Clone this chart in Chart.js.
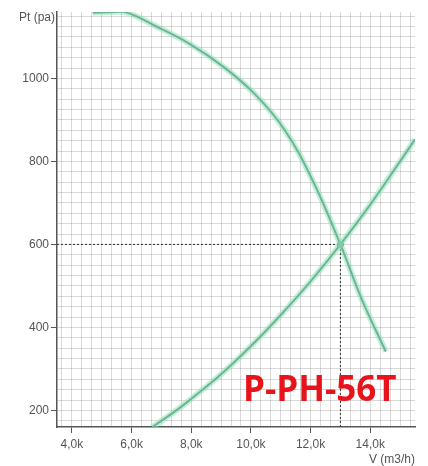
<!DOCTYPE html>
<html>
<head>
<meta charset="utf-8">
<script src="https://cdn.jsdelivr.net/npm/chart.js@4.4.1/dist/chart.umd.min.js"></script>
<style>
  body { margin: 0; background: #fff; }
  canvas { display: block; }
</style>
</head>
<body>
<canvas id="fanChart" width="428" height="466"></canvas>
<script>
// fan curve (Pt vs V)
const fanFlow = [4700, 5700, 6830, 7930, 9060, 10150, 11120, 12050, 13000, 13720, 14520];
const fanPressure = [1158, 1161, 1125, 1084, 1029, 961, 877, 757, 600, 467, 342];

// system curve
const sysFlow = [6700, 7500, 8000, 9000, 10000, 11000, 12000, 13000, 14000, 15000, 15500];
const sysPressure = [160, 200, 228, 287, 355, 430, 511, 600, 696, 800, 853];

// operating point
const dutyFlow = 13000;
const dutyPressure = 600;

const xMin = 3500, xMax = 15500;
const yMin = 160, yMax = 1160;
const xLabelStep = 2000, yLabelStep = 200;
const xGridStep = 2000 / 6, yGridStep = 25;

const toPoints = (xs, ys) => xs.map((x, i) => ({ x: x, y: ys[i] }));

const isLabelled = (v, step) => Math.abs(v / step - Math.round(v / step)) < 0.01;

// grid ticks lined up on the labelled values
const gridTicks = (min, max, step) => {
    const t = [];
    for (let v = Math.ceil(min / step) * step; v <= max + 1e-6; v += step) t.push({ value: v });
    return t;
};

const green = "rgb(58,128,98)";
const glow = "rgba(150,225,190,0.55)";
const labelFont = { family: "'Liberation Sans', Arial, sans-serif", size: 12 };

// axis names and model text
const textPlugin = {
    id: "texts",
    afterDraw(chart) {
        const c = chart.ctx;
        const area = chart.chartArea;
        c.save();
        c.fillStyle = "#555";
        c.font = "12px 'Liberation Sans', Arial, sans-serif";
        c.textAlign = "right";
        c.textBaseline = "middle";
        c.fillText("Pt (pa)", area.left - 2, 18);
        c.fillText("V (m3/h)", area.right, 460);
        c.fillStyle = "#e8141c";
        c.font = "bold 35px 'Open Sans', sans-serif";
        c.textAlign = "left";
        c.textBaseline = "alphabetic";
        c.fillText("P-PH-56T", 243, 401);
        c.restore();
    }
};

const ctx = document.getElementById("fanChart").getContext("2d");
const chart = new Chart(ctx, {
    type: "scatter",
    data: {
        datasets: [
            {
                data: toPoints(fanFlow, fanPressure),
                showLine: true, borderColor: glow, borderWidth: 6,
                pointRadius: 0, tension: 0.4
            },
            {
                data: toPoints(sysFlow, sysPressure),
                showLine: true, borderColor: glow, borderWidth: 6,
                pointRadius: 0, tension: 0.4
            },
            {
                data: toPoints(fanFlow, fanPressure),
                showLine: true, borderColor: green, borderWidth: 2,
                pointRadius: 0, tension: 0.4
            },
            {
                data: toPoints(sysFlow, sysPressure),
                showLine: true, borderColor: green, borderWidth: 2,
                pointRadius: 0, tension: 0.4
            },
            {
                // dotted guide lines to the duty point
                data: [{ x: xMin, y: dutyPressure }, { x: dutyFlow, y: dutyPressure }, { x: dutyFlow, y: yMin }],
                showLine: true, borderColor: "#333", borderWidth: 1, borderDash: [2, 2],
                pointRadius: 0, tension: 0
            },
            {
                data: [{ x: dutyFlow, y: dutyPressure }],
                pointRadius: 3, pointBackgroundColor: "#2e4a3c", pointBorderColor: "#2e4a3c"
            }
        ]
    },
    options: {
        responsive: false,
        animation: false,
        devicePixelRatio: 1,
        layout: { padding: { top: 12, right: 13, left: 0, bottom: 0 } },
        plugins: { legend: { display: false }, tooltip: { enabled: false } },
        scales: {
            x: {
                type: "linear",
                min: xMin, max: xMax,
                afterBuildTicks: s => { s.ticks = gridTicks(xMin, xMax, xGridStep); },
                afterFit: s => { s.height = 39; },
                border: { color: "#555", width: 1.5 },
                grid: {
                    color: "rgba(0,0,0,0.15)",
                    tickLength: 6,
                    tickColor: c => isLabelled(c.tick.value, xLabelStep) ? "#555" : "rgba(0,0,0,0)"
                },
                ticks: {
                    autoSkip: false,
                    maxRotation: 0,
                    padding: 4,
                    color: "#555",
                    font: labelFont,
                    callback: v => isLabelled(v, xLabelStep) ? (Math.round(v / 1000)) + ",0k" : ""
                }
            },
            y: {
                type: "linear",
                min: yMin, max: yMax,
                afterBuildTicks: s => { s.ticks = gridTicks(yMin, yMax, yGridStep); },
                afterFit: s => { s.width = 57; },
                border: { color: "#555", width: 1.5 },
                grid: {
                    color: "rgba(0,0,0,0.15)",
                    tickLength: 6,
                    tickColor: c => isLabelled(c.tick.value, yLabelStep) ? "#555" : "rgba(0,0,0,0)"
                },
                ticks: {
                    autoSkip: false,
                    padding: 2,
                    color: "#555",
                    font: labelFont,
                    callback: v => isLabelled(v, yLabelStep) ? String(Math.round(v)) : ""
                }
            }
        }
    },
    plugins: [textPlugin]
});
</script>
</body>
</html>
